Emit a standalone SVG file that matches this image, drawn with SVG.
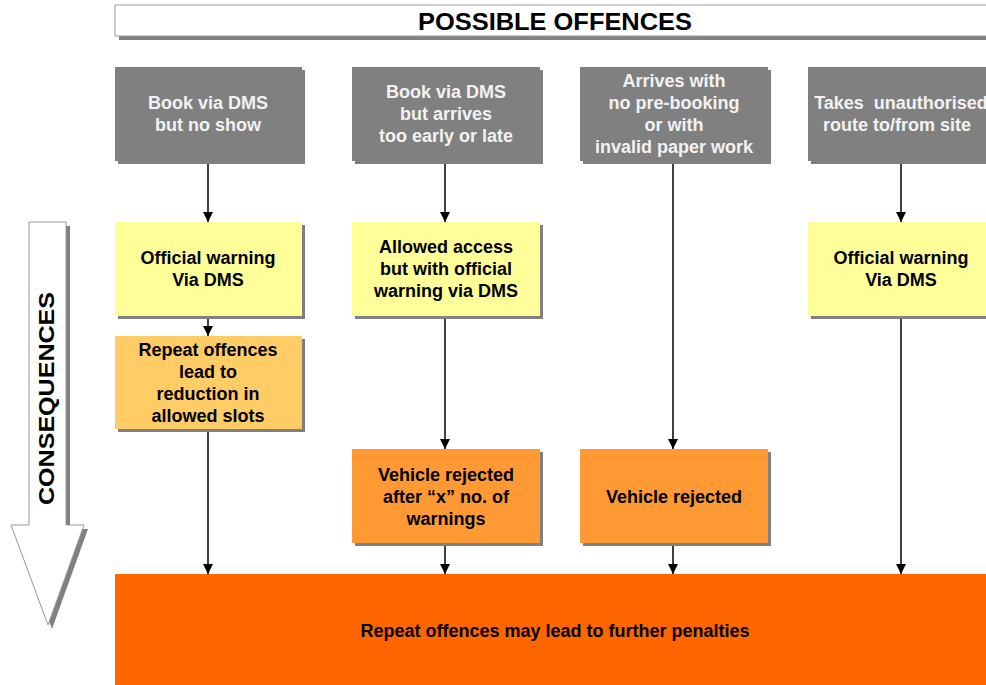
<svg xmlns="http://www.w3.org/2000/svg" width="986" height="685" viewBox="0 0 986 685">
<defs>
<style>
.t{font-family:"Liberation Sans",Arial,sans-serif;font-weight:bold;font-size:18px;text-anchor:middle;fill:#000}
.w{fill:#F2F2F2}
.sh{fill:#808080}
.gray{fill:#808080}
.yel{fill:#FFFF99}
.lor{fill:#FFCC66}
.mor{fill:#FF9933}
.con{stroke:#000;stroke-width:1.5;fill:none;marker-end:url(#ah)}
</style>
<marker id="ah" markerUnits="userSpaceOnUse" markerWidth="10" markerHeight="12" refX="10" refY="5" orient="auto">
<path d="M0,0 L10,5 L0,10 z" fill="#000"/>
</marker>
</defs>
<rect width="986" height="685" fill="#fff"/>

<g id="title">
<rect class="sh" x="119" y="9" width="880" height="31"/>
<rect x="115" y="5" width="880" height="31" fill="#fff" stroke="#999" stroke-width="1"/>
<text class="t" x="555" y="30" style="font-size:23px" textLength="274" lengthAdjust="spacingAndGlyphs">POSSIBLE OFFENCES</text>
</g>

<g id="consequences">
<polygon class="sh" points="33,226 70,226 70,529 88,529 52,629 15,529 33,529"/>
<polygon points="29,222 66,222 66,525 84,525 48,625 11,525 29,525" fill="#fff" stroke="#999" stroke-width="1"/>
<text class="t" transform="translate(54,398.5) rotate(-90)" x="0" y="0" style="font-size:22px" textLength="213" lengthAdjust="spacingAndGlyphs">CONSEQUENCES</text>
</g>

<g id="off1">
<rect class="sh" x="118" y="70" width="187" height="94"/>
<rect class="gray" x="115" y="67" width="187" height="94"/>
<text class="t w" x="208" y="109">Book via DMS</text>
<text class="t w" x="208" y="131">but no show</text>
</g>
<g id="off2">
<rect class="sh" x="355" y="70" width="188" height="94"/>
<rect class="gray" x="352" y="67" width="188" height="94"/>
<text class="t w" x="446" y="98">Book via DMS</text>
<text class="t w" x="446" y="120">but arrives</text>
<text class="t w" x="446" y="142">too early or late</text>
</g>
<g id="off3">
<rect class="sh" x="583" y="70" width="188" height="94"/>
<rect class="gray" x="580" y="67" width="188" height="94"/>
<text class="t w" x="674" y="87">Arrives with</text>
<text class="t w" x="674" y="109">no pre-booking</text>
<text class="t w" x="674" y="131">or with</text>
<text class="t w" x="674" y="153">invalid paper work</text>
</g>
<g id="off4">
<rect class="sh" x="811" y="70" width="188" height="94"/>
<rect class="gray" x="808" y="67" width="188" height="94"/>
<text class="t w" x="901" y="109" xml:space="preserve">Takes  unauthorised</text>
<text class="t w" x="897" y="131">route to/from site</text>
</g>

<g id="warn1">
<rect class="sh" x="118" y="225" width="187" height="94"/>
<rect class="yel" x="115" y="222" width="187" height="94"/>
<text class="t" x="208" y="264">Official warning</text>
<text class="t" x="208" y="286">Via DMS</text>
</g>
<g id="warn2">
<rect class="sh" x="355" y="225" width="188" height="94"/>
<rect class="yel" x="352" y="222" width="188" height="94"/>
<text class="t" x="446" y="253">Allowed access</text>
<text class="t" x="446" y="275">but with official</text>
<text class="t" x="446" y="297">warning via DMS</text>
</g>
<g id="warn4">
<rect class="sh" x="811" y="225" width="188" height="94"/>
<rect class="yel" x="808" y="222" width="188" height="94"/>
<text class="t" x="901" y="264">Official warning</text>
<text class="t" x="901" y="286">Via DMS</text>
</g>

<g id="repeat1">
<rect class="sh" x="118" y="339" width="187" height="93"/>
<rect class="lor" x="115" y="336" width="187" height="93"/>
<text class="t" x="208" y="356">Repeat offences</text>
<text class="t" x="208" y="378">lead to</text>
<text class="t" x="208" y="400">reduction in</text>
<text class="t" x="208" y="422">allowed slots</text>
</g>
<g id="reject2">
<rect class="sh" x="355" y="452" width="188" height="94"/>
<rect class="mor" x="352" y="449" width="188" height="94"/>
<text class="t" x="446" y="481">Vehicle rejected</text>
<text class="t" x="446" y="503">after “x” no. of</text>
<text class="t" x="446" y="525">warnings</text>
</g>
<g id="reject3">
<rect class="sh" x="583" y="452" width="188" height="94"/>
<rect class="mor" x="580" y="449" width="188" height="94"/>
<text class="t" x="674" y="503">Vehicle rejected</text>
</g>

<g id="penalties">
<rect x="115" y="574" width="880" height="111" fill="#FF6600"/>
<text class="t" x="555" y="637">Repeat offences may lead to further penalties</text>
</g>

<g id="connectors">
<line class="con" x1="208" y1="164" x2="208" y2="222"/>
<line class="con" x1="208" y1="319" x2="208" y2="336"/>
<line class="con" x1="208" y1="432" x2="208" y2="574"/>
<line class="con" x1="445" y1="164" x2="445" y2="222"/>
<line class="con" x1="445" y1="319" x2="445" y2="449"/>
<line class="con" x1="445" y1="546" x2="445" y2="574"/>
<line class="con" x1="673" y1="164" x2="673" y2="449"/>
<line class="con" x1="673" y1="546" x2="673" y2="574"/>
<line class="con" x1="901" y1="164" x2="901" y2="222"/>
<line class="con" x1="901" y1="319" x2="901" y2="574"/>
</g>
</svg>
